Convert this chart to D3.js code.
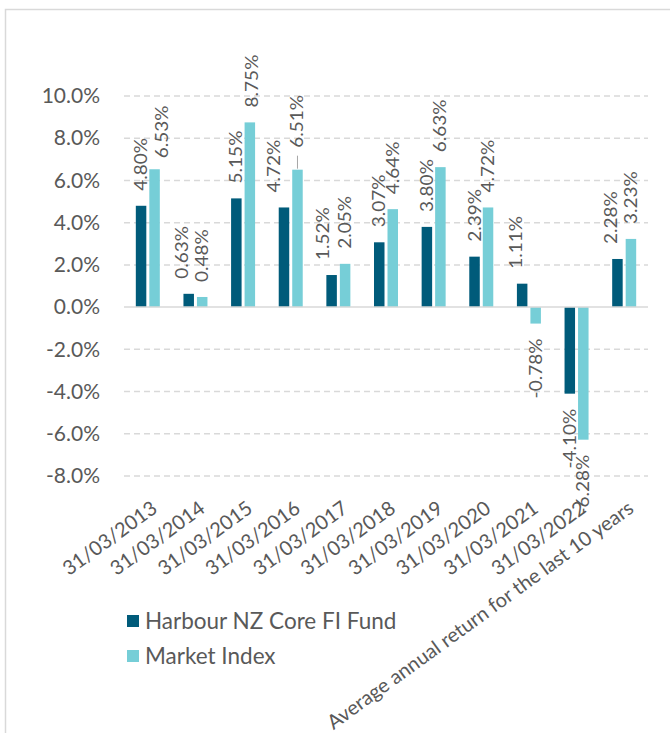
<!DOCTYPE html>
<html>
<head>
<meta charset="utf-8">
<script src="https://cdn.jsdelivr.net/npm/d3@7"></script>
<style>
  body { margin: 0; background: #fff; }
  text { font-family: Lato, "Open Sans", sans-serif; fill: #595959; }
</style>
</head>
<body>
<div id="chart"></div>
<script>
// Chart data
var categories = ['31/03/2013','31/03/2014','31/03/2015','31/03/2016','31/03/2017','31/03/2018',
                  '31/03/2019','31/03/2020','31/03/2021','31/03/2022','Average annual return for the last 10 years'];
var fundValues = [4.80, 0.63, 5.15, 4.72, 1.52, 3.07, 3.80, 2.39, 1.11, -4.10, 2.28];
var indexValues = [6.53, 0.48, 8.75, 6.51, 2.05, 4.64, 6.63, 4.72, -0.78, -6.28, 3.23];
var seriesNames = ['Harbour NZ Core FI Fund', 'Market Index'];
var seriesColors = ['#005b7a', '#76ced7'];
var yTicks = [-8, -6, -4, -2, 0, 2, 4, 6, 8, 10];

var width = 670, height = 733;
var svg = d3.select('#chart').append('svg').attr('width', width).attr('height', height);

// outer frame (runs off the right and bottom edge)
svg.append('rect').attr('x', 5.5).attr('y', 9.5).attr('width', 700).attr('height', 760)
  .attr('fill', 'none').attr('stroke', '#d9d9d9').attr('stroke-width', 1.5);

var x = d3.scaleBand().domain(categories).range([124, 648]);
var y = d3.scaleLinear().domain([-8, 10]).range([476, 96]);
var barW = 10.5, barGap = 3;

// plain hyphen instead of d3's unicode minus
function pct(d, p){ return d3.format('.' + p + 'f')(d).replace('\u2212', '-') + '%'; }

//gridlines
svg.selectAll('.grid').data(yTicks.filter(function(d){return d!=0;})).enter().append('line')
  .attr('class','grid').attr('x1', 124).attr('x2', 648)
  .attr('y1', function(d){return y(d);}).attr('y2', function(d){return y(d);})
  .attr('stroke', '#d9d9d9').attr('stroke-width', 1.5).attr('stroke-dasharray', '6,4');

// y axis labels
var yAxis = d3.axisLeft(y).tickValues(yTicks).tickSize(0).tickPadding(0)
  .tickFormat(function(d){return pct(d, 1);});
var yg = svg.append('g').attr('transform', 'translate(100,0)').call(yAxis);
yg.select('.domain').remove();
yg.selectAll('text').attr('font-size', '21px').attr('fill', '#595959')
  .style('font-family', 'Lato, "Open Sans", sans-serif');

// bars
var series = [fundValues, indexValues];
series.forEach(function(vals, si){
  var off = si == 0 ? -(barW + barGap/2) : barGap/2;
  svg.selectAll('.bar' + si).data(vals).enter().append('rect')
    .attr('class', 'bar' + si)
    .attr('x', function(d, i){return x(categories[i]) + x.bandwidth()/2 + off;})
    .attr('y', function(d){return y(Math.max(0, d));})
    .attr('width', barW)
    .attr('height', function(d){return Math.abs(y(d) - y(0));})
    .attr('fill', seriesColors[si]);
});

// zero line
svg.append('line').attr('x1', 124).attr('x2', 648).attr('y1', y(0)).attr('y2', y(0))
  .attr('stroke', '#d9d9d9').attr('stroke-width', 1.5);

// value labels -- a few were hand-moved in the original, key is series-category
var nudgeX = {'0-1': -7, '0-3': -10, '0-4': -9, '0-8': -6, '0-10': -6, '1-0': 7, '1-2': 2};
var liftY = {'1-0': 11, '1-3': 22};
series.forEach(function(vals, si){
  var off = si == 0 ? -(barW + barGap/2) : barGap/2;
  vals.forEach(function(d, i){
    var key = si + '-' + i;
    var cx = x(categories[i]) + x.bandwidth()/2 + off + barW/2 + (nudgeX[key] || 0);
    var lift = liftY[key] || 15;
    var py = d >= 0 ? y(d) - lift : y(d) + 15;
    svg.append('text')
      .attr('transform', 'translate(' + cx + ',' + py + ') rotate(-90) scale(1,0.9)')
      .attr('text-anchor', d >= 0 ? 'start' : 'end')
      .attr('dy', '0.35em')
      .attr('font-size', '19px')
      .text(pct(d, 2));
    if (key == '1-3') { // leader line
      svg.append('line').attr('x1', cx).attr('x2', cx).attr('y1', y(d) - 1).attr('y2', y(d) - 14)
        .attr('stroke', '#a6a6a6').attr('stroke-width', 1);
    }
  });
});

// category labels
svg.selectAll('.xlab').data(categories).enter().append('text')
  .attr('class', 'xlab')
  .attr('transform', function(d){return 'translate(' + (x(d) + x.bandwidth()/2 + 2) + ',499) rotate(-36)';})
  .attr('text-anchor', 'end')
  .attr('dy', '0.75em')
  .attr('font-size', '20px')
  .text(function(d){return d;});

// legend
var legend = svg.selectAll('.legend').data(seriesNames).enter().append('g')
  .attr('class', 'legend')
  .attr('transform', function(d, i){return 'translate(127,' + (615 + i*35) + ')';});
legend.append('rect').attr('width', 12).attr('height', 12)
  .attr('fill', function(d, i){return seriesColors[i];});
legend.append('text').attr('x', 18).attr('y', 13.5).attr('font-size', '22.5px')
  .text(function(d){return d;});
</script>
</body>
</html>
